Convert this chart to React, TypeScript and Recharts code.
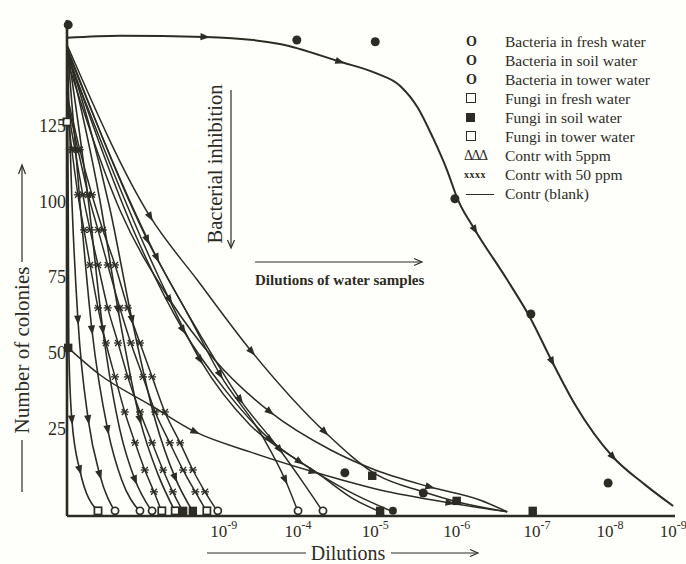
import React from "react";
import { ComposedChart, Line, Scatter, XAxis, YAxis } from "recharts";

const INK = "#2c2c24";
const PAPER = "#fefefb";
const SERIF = "'Liberation Serif', 'Times New Roman', serif";

// x runs along the printed dilution axis (0 = left edge, 100 = last 10^-9 mark)
const xTickPos = [25.8, 38.0, 50.7, 64.1, 77.3, 89.3, 99.7];
const xTickExp = ["-9", "-4", "-5", "-6", "-7", "-8", "-9"];
const yTicks = [25, 50, 75, 100, 125];

// plot scale in px per unit, only used to turn arrowheads along the curves
const PX_X = 6.08;
const PX_Y = 3.024;

// control (blank) – the big sigmoid
const blankX = [0, 8.7, 22.7, 35.0, 44.9, 50.7, 54.8, 57.7, 60.2, 62.5, 64.3, 67.1, 72.4, 76.2, 79.8, 83.6, 89.8, 95.1, 99.7];
const blankY = [154.1, 154.8, 154.4, 152.1, 146.2, 142.5, 138.2, 131.0, 121.0, 110.4, 100.5, 90.6, 74.1, 61.5, 47.0, 32.7, 15.5, 6.3, -0.7];

// steep curves on the left
const l1X = [0, 0.2, 0.3, 0.8, 2.1, 5.1];
const l1Y = [153.4, 100.5, 51.6, 27.8, 11.2, -2.6];
const l2X = [0, 0.8, 1.8, 3.5, 5.4, 7.9];
const l2Y = [152.8, 100.5, 60.8, 27.8, 9.6, -2.6];
const l3X = [0, 2.1, 4.1, 6.7, 9.0, 12.0];
const l3Y = [152.1, 100.5, 57.5, 24.5, 7.9, -2.6];
const l4X = [0, 3.5, 5.9, 8.7, 11.2, 14.0];
const l4Y = [151.5, 100.5, 57.5, 24.5, 7.9, -2.6];
const l5X = [0, 5.4, 8.4, 12.0, 15.0, 17.8];
const l5Y = [150.8, 100.5, 64.2, 27.8, 9.6, -2.6];
const l6X = [0, 7.1, 10.7, 14.5, 17.8, 20.7];
const l6Y = [150.1, 97.2, 60.8, 27.8, 8.6, -2.6];

// 50 ppm curves (star marks)
const starY = [0, 117.1, 102.2, 90.6, 79.0, 64.8, 53.2, 42.0, 30.4, 20.2, 11.2, 4.0, -2.6];
const s1X = [0, 0.8, 1.8, 2.8, 3.8, 5.1, 6.4, 7.9, 9.5, 11.2, 12.8, 14.3, 15.6];
const s1Y = [130.3, ...starY.slice(1)];
const s2X = [0, 1.3, 2.6, 3.8, 5.1, 6.7, 8.4, 10.0, 12.0, 14.0, 15.8, 17.4, 19.1];
const s2Y = [131.9, ...starY.slice(1)];
const s3X = [0, 1.8, 3.5, 5.1, 6.7, 8.7, 10.5, 12.5, 14.5, 16.9, 19.1, 21.1, 23.0];
const s3Y = [133.6, ...starY.slice(1)];
const s4X = [0, 2.1, 4.1, 5.9, 7.9, 10.0, 12.0, 14.0, 16.1, 18.6, 20.7, 22.7, 24.8];
const s4Y = [135.3, ...starY.slice(1)];

// slower curves to the right
const r1X = [0, 13.7, 21.4, 30.4, 42.4, 51.0, 58.6, 64.1, 72.4];
const r1Y = [151.8, 94.9, 74.1, 50.3, 23.8, 9.6, 4.0, 0.7, -2.6];
const r2X = [0, 13.2, 20.2, 25.2, 32.2, 35.9, 38.0];
const r2Y = [151.1, 87.3, 61.5, 42.7, 22.2, 7.9, -2.6];
const r3X = [0, 14.8, 21.9, 28.5, 35.0, 39.1, 42.1];
const r3Y = [150.1, 81.3, 55.9, 34.4, 17.9, 6.3, -2.6];
const r4X = [0, 12.0, 19.1, 26.0, 33.4, 41.6, 47.4, 51.5];
const r4Y = [149.5, 85.6, 57.5, 37.7, 21.2, 9.6, 1.3, -2.6];
const r5X = [0, 15.3, 21.9, 30.1, 38.3, 46.5, 53.6];
const r5Y = [148.5, 74.1, 47.6, 26.1, 13.9, 4.0, -2.6];
const r6X = [0.2, 5.4, 13.7, 21.1, 30.1, 40.5, 51.5, 63.0, 72.4];
const r6Y = [51.6, 42.7, 32.7, 23.8, 17.2, 10.6, 4.6, 0.3, -2.6];
const r7X = [0, 8.7, 16.9, 24.3, 33.4, 43.3, 50.7, 59.7, 67.9, 72.4];
const r7Y = [146.8, 97.2, 67.5, 47.6, 30.4, 17.9, 11.2, 5.6, 1.3, -2.6];

// separate plotted points
const markX = [0.2, 37.8, 50.7, 63.8, 76.3, 89.0, 0, 0.2, 45.7, 50.2, 58.6, 64.1,
  5.1, 7.9, 12.0, 14.0, 15.6, 17.8, 19.1, 20.7, 23.0, 24.8, 38.0, 42.1, 51.5, 53.6, 76.6];
const markY = [158.4, 153.4, 152.8, 100.9, 62.8, 6.9, 126.3, 51.6, 10.3, 9.3, 3.6, 1.0,
  -2.3, -2.3, -2.3, -2.3, -2.3, -2.3, -2.3, -2.3, -2.3, -2.3, -2.3, -2.3, -2.3, -2.3, -2.3];
const markKind = ["d", "d", "d", "d", "d", "d", "sq", "SQ", "d", "SQ", "d", "SQ",
  "sq", "o", "o", "o", "sq", "sq", "SQ", "SQ", "sq", "o", "o", "o", "SQ", "O", "SQ"];

const legendSym = ["O", "O", "O", "box", "fill", "box", "tri", "xx", "line"];
const legendText = [
  "Bacteria in fresh water",
  "Bacteria in soil water",
  "Bacteria in tower water",
  "Fungi in fresh water",
  "Fungi in soil water",
  "Fungi in tower water",
  "Contr with 5ppm",
  "Contr with 50 ppm",
  "Contr (blank)",
];

type Series = { id: string; xs: number[]; ys: number[]; kind: "arrow" | "star"; arrows: number[]; w: number };

const series: Series[] = [
  { id: "blank", xs: blankX, ys: blankY, kind: "arrow", arrows: [2, 4, 11, 14, 16], w: 2 },
  { id: "l1", xs: l1X, ys: l1Y, kind: "arrow", arrows: [3, 4], w: 1.6 },
  { id: "l2", xs: l2X, ys: l2Y, kind: "arrow", arrows: [2, 3, 4], w: 1.6 },
  { id: "l3", xs: l3X, ys: l3Y, kind: "arrow", arrows: [2, 3], w: 1.6 },
  { id: "l4", xs: l4X, ys: l4Y, kind: "arrow", arrows: [2, 4], w: 1.6 },
  { id: "l5", xs: l5X, ys: l5Y, kind: "arrow", arrows: [2, 3], w: 1.6 },
  { id: "l6", xs: l6X, ys: l6Y, kind: "arrow", arrows: [2, 4], w: 1.6 },
  { id: "s1", xs: s1X, ys: s1Y, kind: "star", arrows: [], w: 1.5 },
  { id: "s2", xs: s2X, ys: s2Y, kind: "star", arrows: [], w: 1.5 },
  { id: "s3", xs: s3X, ys: s3Y, kind: "star", arrows: [], w: 1.5 },
  { id: "s4", xs: s4X, ys: s4Y, kind: "star", arrows: [], w: 1.5 },
  { id: "r1", xs: r1X, ys: r1Y, kind: "arrow", arrows: [1, 3, 4, 7], w: 1.5 },
  { id: "r2", xs: r2X, ys: r2Y, kind: "arrow", arrows: [1, 3, 5], w: 1.5 },
  { id: "r3", xs: r3X, ys: r3Y, kind: "arrow", arrows: [1, 3, 4], w: 1.5 },
  { id: "r4", xs: r4X, ys: r4Y, kind: "arrow", arrows: [2, 4], w: 1.5 },
  { id: "r5", xs: r5X, ys: r5Y, kind: "arrow", arrows: [2, 4], w: 1.5 },
  { id: "r6", xs: r6X, ys: r6Y, kind: "arrow", arrows: [3, 5, 7], w: 1.5 },
  { id: "r7", xs: r7X, ys: r7Y, kind: "arrow", arrows: [2, 4, 7], w: 1.5 },
];

const toPts = (xs: number[], ys: number[]) => xs.map((x, i) => ({ x, y: ys[i] }));
const marks = markX.map((x, i) => ({ x, y: markY[i], k: markKind[i] }));

function markRenderer(s: Series) {
  return (p: any) => {
    const { cx, cy, index } = p;
    const key = `${s.id}-${index}`;
    const n = s.xs.length;
    if (cx == null || cy == null || index === 0 || index === n - 1) return <g key={key} />;
    if (s.kind === "star") {
      const r = 3;
      return (
        <g key={key} stroke={INK} strokeWidth={1.3}>
          <line x1={cx - r} y1={cy - r} x2={cx + r} y2={cy + r} />
          <line x1={cx - r} y1={cy + r} x2={cx + r} y2={cy - r} />
          <line x1={cx - r - 1} y1={cy} x2={cx + r + 1} y2={cy} />
        </g>
      );
    }
    if (!s.arrows.includes(index)) return <g key={key} />;
    const dx = (s.xs[index + 1] - s.xs[index - 1]) * PX_X;
    const dy = -(s.ys[index + 1] - s.ys[index - 1]) * PX_Y;
    const ang = (Math.atan2(dy, dx) * 180) / Math.PI;
    return (
      <path
        key={key}
        d="M5,0 L-4.5,-3.6 L-4.5,3.6 Z"
        transform={`translate(${cx},${cy}) rotate(${ang})`}
        fill={INK}
      />
    );
  };
}

function MarkShape(p: any) {
  const { cx, cy, payload } = p;
  if (cx == null) return <g />;
  switch (payload.k) {
    case "d":
      return <circle cx={cx} cy={cy} r={4.5} fill={INK} />;
    case "o":
      return <circle cx={cx} cy={cy} r={3.6} fill={PAPER} stroke={INK} strokeWidth={1.7} />;
    case "O":
      return <circle cx={cx} cy={cy} r={4} fill={INK} />;
    case "sq":
      return <rect x={cx - 3.6} y={cy - 3.6} width={7.2} height={7.2} fill={PAPER} stroke={INK} strokeWidth={1.7} />;
    default:
      return <rect x={cx - 4.2} y={cy - 4.2} width={8.4} height={8.4} fill={INK} />;
  }
}

function XTick(p: any) {
  const { x, y, payload } = p;
  const i = xTickPos.indexOf(payload.value);
  return (
    <text x={x} y={y + 19} textAnchor="middle" fill={INK} fontSize={17} fontFamily={SERIF}>
      10
      <tspan dy={-8} fontSize={12}>
        {xTickExp[i]}
      </tspan>
    </text>
  );
}

function LegendSymbol({ kind }: { kind: string }) {
  if (kind === "O") return <span style={{ fontSize: 14, fontWeight: 700 }}>O</span>;
  if (kind === "box")
    return <span style={{ display: "inline-block", width: 8, height: 8, border: `1.3px solid ${INK}` }} />;
  if (kind === "fill") return <span style={{ display: "inline-block", width: 9, height: 9, background: INK }} />;
  if (kind === "tri") return <span style={{ fontSize: 14, letterSpacing: -1.5, marginLeft: -2 }}>ΔΔΔ</span>;
  if (kind === "xx") return <span style={{ fontSize: 10, fontWeight: 700, letterSpacing: 0.5, marginLeft: -2 }}>xxxx</span>;
  return <span style={{ display: "inline-block", width: 28, borderTop: `1.2px solid ${INK}`, marginTop: 2 }} />;
}

export default function App() {
  return (
    <div style={{ position: "absolute", left: 0, top: 0, width: 686, height: 564, background: PAPER, fontFamily: SERIF, color: INK }}>
      <ComposedChart width={686} height={564} margin={{ top: 20, right: 11, bottom: 18, left: 27 }}>
        <XAxis
          type="number"
          dataKey="x"
          domain={[0, 100]}
          ticks={xTickPos}
          interval={0}
          tick={<XTick />}
          tickLine={false}
          tickSize={0}
          height={30}
          axisLine={{ stroke: INK, strokeWidth: 2.6 }}
        />
        <YAxis
          type="number"
          dataKey="y"
          domain={[-4, 160]}
          ticks={yTicks}
          interval={0}
          width={40}
          tickLine={false}
          tickSize={0}
          tickMargin={1}
          tick={{ fill: INK, fontSize: 18, fontFamily: SERIF }}
          axisLine={{ stroke: INK, strokeWidth: 2.6 }}
        />
        {series.map((s) => (
          <Line
            key={s.id}
            data={toPts(s.xs, s.ys)}
            dataKey="y"
            type="monotone"
            stroke={INK}
            strokeWidth={s.w}
            dot={markRenderer(s)}
            activeDot={false}
            isAnimationActive={false}
          />
        ))}
        <Scatter data={marks} shape={<MarkShape />} isAnimationActive={false} />
      </ComposedChart>

      <svg width={686} height={564} style={{ position: "absolute", left: 0, top: 0, pointerEvents: "none" }}>
        <g fill="none" stroke={INK} strokeWidth={1.2}>
          <line x1={231} y1={90} x2={231} y2={247} />
          <path d="M227.5,240 L231,248 L234.5,240" />
          <line x1={255} y1={262} x2={421} y2={262} />
          <path d="M414,258.5 L422,262 L414,265.5" />
          <line x1={22} y1={440} x2={22} y2={492} />
          <line x1={22} y1={262} x2={22} y2={167} />
          <path d="M18.5,174 L22,165 L25.5,174" />
          <line x1={207} y1={553} x2={306} y2={553} />
          <line x1={391} y1={553} x2={477} y2={553} />
          <path d="M470,549.5 L478,553 L470,556.5" />
        </g>
        <g fill={INK} fontFamily={SERIF}>
          <text transform="translate(222,164) rotate(-90)" textAnchor="middle" fontSize={20.5}>
            Bacterial inhibition
          </text>
          <text x={255} y={285} fontSize={15} fontWeight={700}>
            Dilutions of water samples
          </text>
          <text transform="translate(29,350) rotate(-90)" textAnchor="middle" fontSize={21}>
            Number of colonies
          </text>
          <text x={348} y={560} textAnchor="middle" fontSize={20}>
            Dilutions
          </text>
        </g>
      </svg>

      <div style={{ position: "absolute", left: 464, top: 31.5, fontSize: 15.5, lineHeight: "19px" }}>
        {legendText.map((t, i) => (
          <div key={t} style={{ display: "flex", alignItems: "center", height: 19 }}>
            <span style={{ width: 39, display: "inline-flex", alignItems: "center", paddingLeft: 2 }}>
              <LegendSymbol kind={legendSym[i]} />
            </span>
            <span>{t}</span>
          </div>
        ))}
      </div>
    </div>
  );
}
